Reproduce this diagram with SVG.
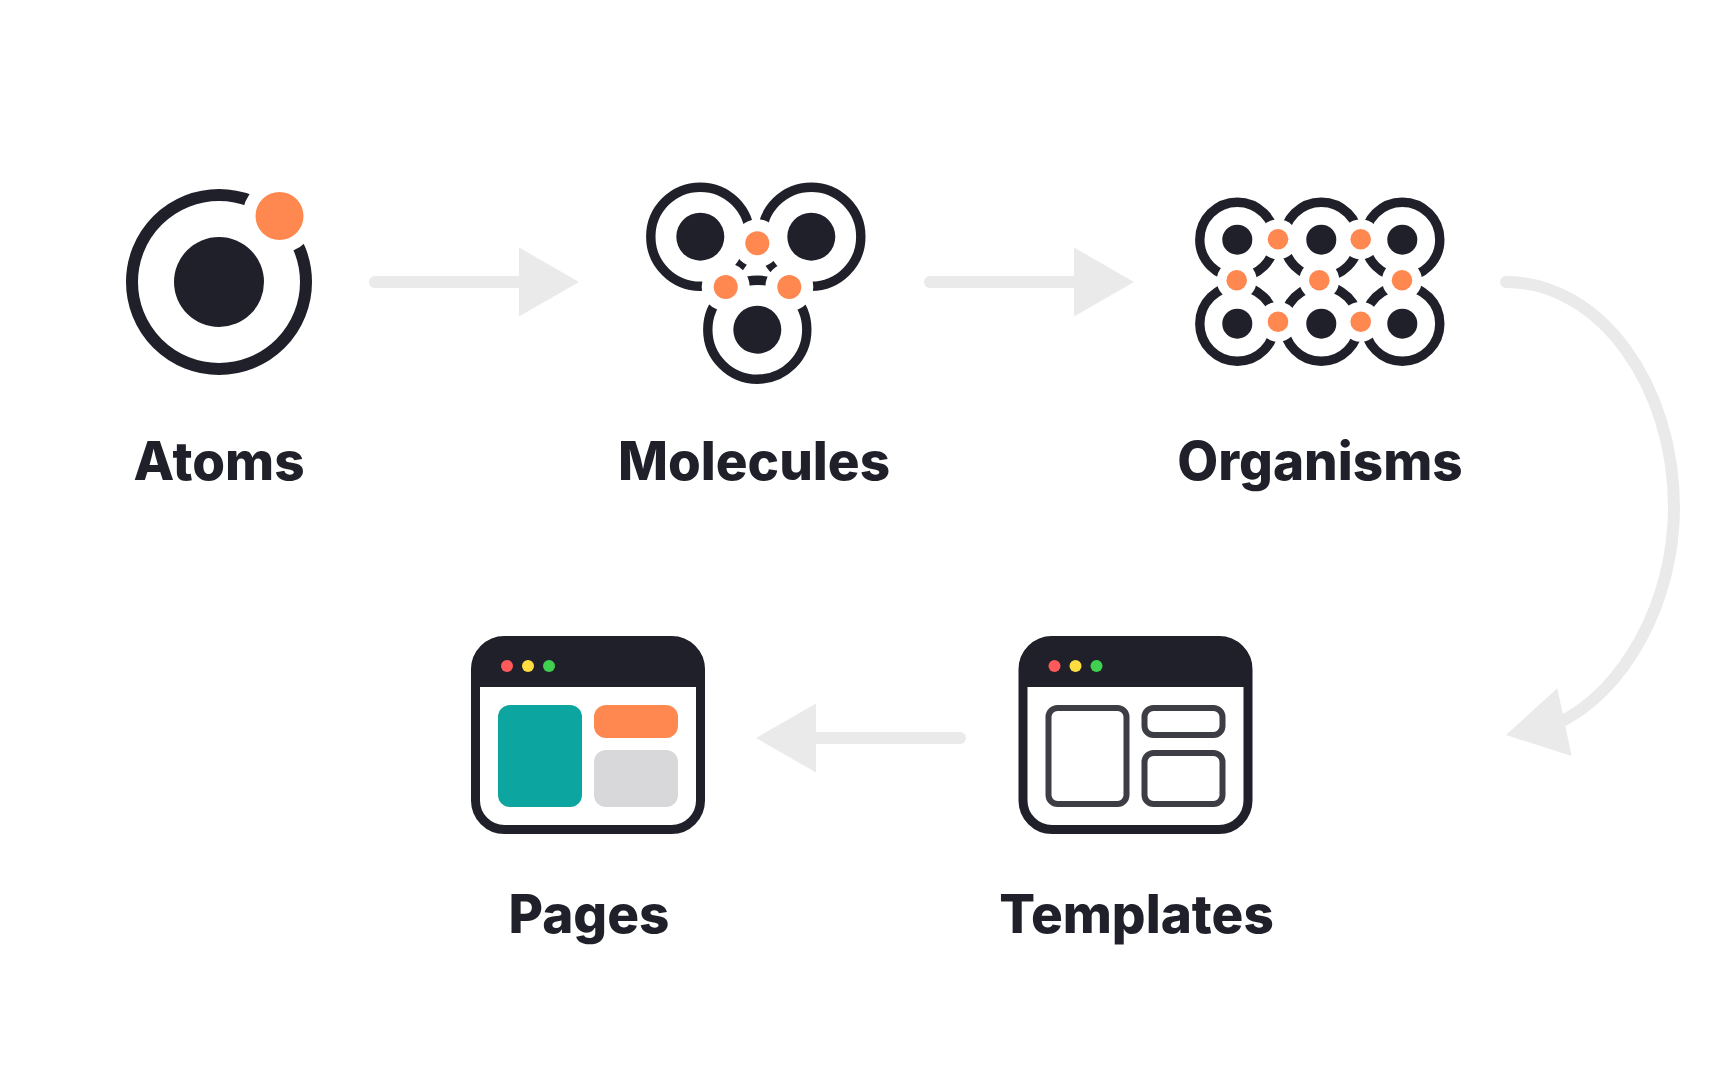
<svg xmlns="http://www.w3.org/2000/svg" width="1728" height="1080" viewBox="0 0 1728 1080" shape-rendering="geometricPrecision">
<style>
.bg{fill:#fff}
.ring{fill:none;stroke:#1F2029}
.dark{fill:#1F2029}
.org{fill:#FF8850}
.halo{fill:#fff}
.conn{fill:none;stroke:#EAEAEB;stroke-width:12;stroke-linecap:round}
.head{fill:#EAEAEB}
.lbl{font-family:Inter,"Liberation Sans",sans-serif;font-weight:800;font-size:53px;fill:#1F2029;text-anchor:middle}
.m{stroke-width:9.4}
.p{fill:none;stroke:#3D3E45;stroke-width:6}
.win{fill:#fff;stroke:#1F2029;stroke-width:9}
</style>
<rect class="bg" width="1728" height="1080"/>
<g id="connectors">
<path class="conn" d="M375 282H525"/><polygon class="head" points="519,247.5 579,282 519,316.5"/>
<path class="conn" d="M930 282H1080"/><polygon class="head" points="1074,247.5 1134,282 1074,316.5"/>
<path class="conn" d="M1506 282C1600 282 1674 385 1674 508C1674 600 1625 693 1556 724"/><polygon class="head" points="1557.3,688.3 1506,735 1571.7,756"/>
<path class="conn" d="M960 738H810"/><polygon class="head" points="816,703.5 756,738 816,772.5"/>
</g>
<g id="atoms">
<circle class="ring" cx="219" cy="282" r="87" stroke-width="12"/>
<circle class="dark" cx="219" cy="282" r="45"/>
<circle class="halo" cx="279.5" cy="216" r="37"/>
<circle class="org" cx="279.5" cy="216" r="24"/>
<text class="lbl" x="219" y="480">Atoms</text>
</g>
<g id="molecules">
<circle class="ring m" cx="700.3" cy="236.7" r="49.5"/>
<circle class="ring m" cx="811.3" cy="236.7" r="49.5"/>
<circle class="ring m" cx="757.3" cy="329.7" r="49.5"/>
<circle class="halo" cx="757.3" cy="243.3" r="24"/>
<circle class="halo" cx="725.7" cy="287" r="24"/>
<circle class="halo" cx="789.3" cy="287" r="24"/>
<circle class="dark" cx="700.3" cy="236.7" r="24"/>
<circle class="dark" cx="811.3" cy="236.7" r="24"/>
<circle class="dark" cx="757.3" cy="329.7" r="24"/>
<circle class="org" cx="757.3" cy="243.3" r="12"/>
<circle class="org" cx="725.7" cy="287" r="12"/>
<circle class="org" cx="789.3" cy="287" r="12"/>
<text class="lbl" x="754" y="480">Molecules</text>
</g>
<g id="organisms">
<circle class="ring m" cx="1237.3" cy="239.7" r="37.5"/>
<circle class="ring m" cx="1321.3" cy="239.7" r="37.5"/>
<circle class="ring m" cx="1402.3" cy="239.7" r="37.5"/>
<circle class="ring m" cx="1237.3" cy="323.7" r="37.5"/>
<circle class="ring m" cx="1321.3" cy="323.7" r="37.5"/>
<circle class="ring m" cx="1402.3" cy="323.7" r="37.5"/>
<circle class="halo" cx="1278" cy="239.3" r="20"/>
<circle class="halo" cx="1360.7" cy="239.3" r="20"/>
<circle class="halo" cx="1236.7" cy="280.3" r="20"/>
<circle class="halo" cx="1319.3" cy="280.3" r="20"/>
<circle class="halo" cx="1402" cy="280.3" r="20"/>
<circle class="halo" cx="1278" cy="321.7" r="20"/>
<circle class="halo" cx="1360.7" cy="321.7" r="20"/>
<circle class="dark" cx="1237.3" cy="239.7" r="15"/>
<circle class="dark" cx="1321.3" cy="239.7" r="15"/>
<circle class="dark" cx="1402.3" cy="239.7" r="15"/>
<circle class="dark" cx="1237.3" cy="323.7" r="15"/>
<circle class="dark" cx="1321.3" cy="323.7" r="15"/>
<circle class="dark" cx="1402.3" cy="323.7" r="15"/>
<circle class="org" cx="1278" cy="239.3" r="10.3"/>
<circle class="org" cx="1360.7" cy="239.3" r="10.3"/>
<circle class="org" cx="1236.7" cy="280.3" r="10.3"/>
<circle class="org" cx="1319.3" cy="280.3" r="10.3"/>
<circle class="org" cx="1402" cy="280.3" r="10.3"/>
<circle class="org" cx="1278" cy="321.7" r="10.3"/>
<circle class="org" cx="1360.7" cy="321.7" r="10.3"/>
<text class="lbl" x="1320" y="480">Organisms</text>
</g>
<g id="templates">
<rect class="win" x="1023" y="640.5" width="225" height="189" rx="29"/>
<path class="dark" d="M1019 687V669.5A33 33 0 0 1 1052 636.5H1219A33 33 0 0 1 1252 669.5V687Z"/>
<circle cx="1054.5" cy="666" r="6" fill="#FF5A5A"/>
<circle cx="1075.5" cy="666" r="6" fill="#FFDD40"/>
<circle cx="1096.5" cy="666" r="6" fill="#40D050"/>
<rect class="p" x="1048.5" y="708" width="78" height="96" rx="9"/>
<rect class="p" x="1144.5" y="708" width="78" height="27" rx="9"/>
<rect class="p" x="1144.5" y="753" width="78" height="51" rx="9"/>
<text class="lbl" x="1136.5" y="933">Templates</text>
</g>
<g id="pages">
<rect class="win" x="475.5" y="640.5" width="225" height="189" rx="29"/>
<path class="dark" d="M471.5 687V669.5A33 33 0 0 1 504.5 636.5H671.5A33 33 0 0 1 704.5 669.5V687Z"/>
<circle cx="507" cy="666" r="6" fill="#FF5A5A"/>
<circle cx="528" cy="666" r="6" fill="#FFDD40"/>
<circle cx="549" cy="666" r="6" fill="#40D050"/>
<rect x="498" y="705" width="84" height="102" rx="12" fill="#0DA59F"/>
<rect x="594" y="705" width="84" height="33" rx="12" fill="#FF8850"/>
<rect x="594" y="750" width="84" height="57" rx="12" fill="#D8D8DA"/>
<text class="lbl" x="589" y="933">Pages</text>
</g>
</svg>
